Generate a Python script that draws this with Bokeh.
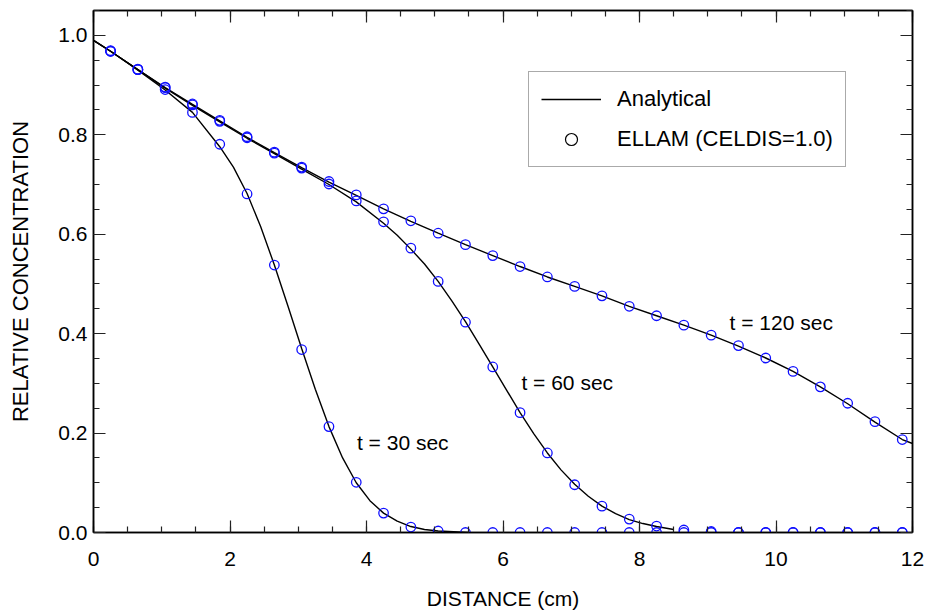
from bokeh.plotting import figure
from bokeh.models import (Range1d, LinearAxis, SingleIntervalTicker, NumeralTickFormatter,
                          CustomJSTickFormatter, Legend, LegendItem, Label)
from bokeh.embed import file_html
from bokeh.resources import INLINE

FONT = "Liberation Sans"

# ELLAM (CELDIS=1.0) simulated points
ellam_x = [0.25, 0.65, 1.05, 1.45, 1.85, 2.25, 2.65, 3.05, 3.45, 3.85,
           4.25, 4.65, 5.05, 5.45, 5.85, 6.25, 6.65, 7.05, 7.45, 7.85,
           8.25, 8.65, 9.05, 9.45, 9.85, 10.25, 10.65, 11.05, 11.45, 11.85]
ellam_t30 = [0.968, 0.931, 0.891, 0.845, 0.781, 0.681, 0.538, 0.368, 0.213, 0.101,
             0.039, 0.011, 0.003, 0.0, 0.0, 0.0, 0.0, 0.0, 0.0, 0.0,
             0.0, 0.0, 0.0, 0.0, 0.0, 0.0, 0.0, 0.0, 0.0, 0.0]
ellam_t60 = [0.968, 0.931, 0.895, 0.860, 0.827, 0.794, 0.763, 0.733, 0.701, 0.667,
             0.625, 0.572, 0.505, 0.423, 0.333, 0.241, 0.160, 0.096, 0.053, 0.027,
             0.013, 0.005, 0.002, 0.0, 0.0, 0.0, 0.0, 0.0, 0.0, 0.0]
ellam_t120 = [0.969, 0.932, 0.896, 0.862, 0.829, 0.796, 0.765, 0.735, 0.706, 0.679,
              0.651, 0.627, 0.602, 0.579, 0.557, 0.535, 0.514, 0.495, 0.476, 0.455,
              0.436, 0.417, 0.397, 0.376, 0.351, 0.324, 0.293, 0.260, 0.223, 0.187]

# Analytical solution curves
ana_x30 = [0.0, 0.25, 0.65, 1.05, 1.45, 1.85, 2.05, 2.25, 2.45, 2.65, 2.85, 3.05,
           3.25, 3.45, 3.65, 3.85, 4.05, 4.25, 4.45, 4.65, 4.85, 5.05, 5.5]
ana_t30 = [0.990, 0.968, 0.930, 0.890, 0.845, 0.776, 0.735, 0.682, 0.615, 0.538, 0.455, 0.370,
           0.288, 0.213, 0.150, 0.100, 0.064, 0.039, 0.023, 0.012, 0.006, 0.003, 0.0]
ana_x60 = [0.0, 0.25, 0.65, 1.05, 1.45, 1.85, 2.25, 2.65, 3.05, 3.45, 3.85, 4.25, 4.45,
           4.65, 4.85, 5.05, 5.25, 5.45, 5.65, 5.85, 6.05, 6.25, 6.45, 6.65, 6.85,
           7.05, 7.25, 7.45, 7.65, 7.85, 8.05, 8.25, 8.5]
ana_t60 = [0.990, 0.968, 0.931, 0.894, 0.859, 0.826, 0.793, 0.762, 0.731, 0.700, 0.665, 0.622, 0.598,
           0.570, 0.540, 0.505, 0.466, 0.424, 0.379, 0.333, 0.287, 0.241, 0.199, 0.160, 0.126,
           0.097, 0.073, 0.053, 0.038, 0.026, 0.018, 0.012, 0.006]
ana_x120 = [0.0, 0.25, 0.65, 1.05, 1.45, 1.85, 2.25, 2.65, 3.05, 3.45, 3.85,
            4.25, 4.65, 5.05, 5.45, 5.85, 6.25, 6.65, 7.05, 7.45, 7.85,
            8.25, 8.65, 9.05, 9.45, 9.85, 10.25, 10.65, 11.05, 11.45, 11.85, 12.0]
ana_t120 = [0.990, 0.968, 0.931, 0.895, 0.861, 0.828, 0.795, 0.764, 0.734, 0.705, 0.678,
            0.651, 0.626, 0.602, 0.579, 0.557, 0.535, 0.514, 0.495, 0.476, 0.455,
            0.436, 0.417, 0.397, 0.375, 0.351, 0.324, 0.293, 0.259, 0.222, 0.187, 0.179]

curve_labels = ["t = 30 sec", "t = 60 sec", "t = 120 sec"]

p = figure(width=930, height=612, x_range=Range1d(0, 12), y_range=Range1d(0, 1.05),
           output_backend="svg", toolbar_location=None,
           min_border_left=93, min_border_right=18, min_border_top=10, min_border_bottom=79)
p.grid.visible = False
p.outline_line_color = "black"
p.outline_line_width = 1.5
p.background_fill_color = "white"
p.border_fill_color = "white"

def style_axis(ax, show_labels=True):
    ax.major_tick_in = 12
    ax.major_tick_out = 0
    ax.minor_tick_in = 6
    ax.minor_tick_out = 0
    ax.axis_line_color = "black"
    ax.axis_line_width = 1.5
    ax.major_tick_line_color = "#222222"
    ax.minor_tick_line_color = "#222222"
    ax.major_tick_line_width = 1.2
    ax.minor_tick_line_width = 1.2
    ax.major_label_text_font = FONT
    ax.major_label_text_color = "black"
    ax.major_label_text_font_size = "21px"
    ax.axis_label_text_font = FONT
    ax.axis_label_text_font_style = "normal"
    ax.axis_label_text_color = "black"
    ax.axis_label_text_font_size = "21px"
    if not show_labels:
        ax.formatter = CustomJSTickFormatter(code="return ''")
        ax.major_label_standoff = 0

xt = SingleIntervalTicker(interval=2, num_minor_ticks=4)
yt = SingleIntervalTicker(interval=0.2, num_minor_ticks=4)

xa = p.xaxis[0]
xa.ticker = xt
style_axis(xa)
xa.axis_label = "DISTANCE (cm)"
xa.major_label_standoff = 19
xa.axis_label_standoff = 18

ya = p.yaxis[0]
ya.ticker = yt
ya.formatter = NumeralTickFormatter(format="0.0")
style_axis(ya)
ya.axis_label = "RELATIVE CONCENTRATION"
ya.axis_label_text_font_size = "22px"
ya.major_label_standoff = 6
ya.axis_label_standoff = 22

top = LinearAxis(ticker=SingleIntervalTicker(interval=2, num_minor_ticks=4))
style_axis(top, show_labels=False)
p.add_layout(top, "above")
right = LinearAxis(ticker=SingleIntervalTicker(interval=0.2, num_minor_ticks=4))
style_axis(right, show_labels=False)
p.add_layout(right, "right")

lw = 1.4
l30 = p.line(ana_x30, ana_t30, line_color="black", line_width=lw)
p.line(ana_x60, ana_t60, line_color="black", line_width=lw)
p.line(ana_x120, ana_t120, line_color="black", line_width=lw)

for ys in (ellam_t30, ellam_t60, ellam_t120):
    p.scatter(ellam_x, ys, marker="circle", size=9.5, fill_color=None,
              line_color="#1010ff", line_width=1.3)

nan = float("nan")
legend_circle = p.scatter(x=[nan], y=[nan], marker="circle", size=10, fill_color=None,
                          line_color="black", line_width=1.2)

legend = Legend(items=[LegendItem(label="Analytical", renderers=[l30]),
                       LegendItem(label="ELLAM (CELDIS=1.0)", renderers=[legend_circle])],
                location=(435, 365), orientation="vertical")
legend.glyph_width = 60
legend.glyph_height = 30
legend.label_standoff = 16
legend.spacing = 10
legend.padding = 12
legend.margin = 0
legend.label_text_font = FONT
legend.label_text_font_size = "22px"
legend.label_text_color = "black"
legend.border_line_color = "#555555"
legend.border_line_width = 1.5
legend.background_fill_color = "white"
legend.background_fill_alpha = 1.0
p.add_layout(legend, "center")

label_pos = [(3.86, 0.181), (6.27, 0.302), (9.32, 0.422)]
for txt, (lx, ly) in zip(curve_labels, label_pos):
    p.add_layout(Label(x=lx, y=ly, text=txt, text_font=FONT, text_font_size="21px",
                       text_color="black", text_baseline="middle", text_align="left"))

open("out.html", "w").write(file_html(p, INLINE))
